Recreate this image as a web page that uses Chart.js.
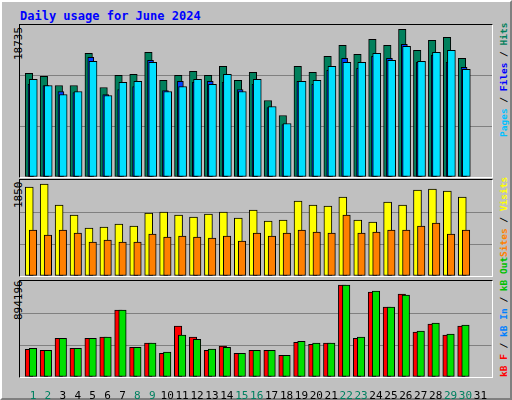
<!DOCTYPE html>
<html>
<head>
<meta charset="utf-8">
<script src="https://cdn.jsdelivr.net/npm/chart.js@4/dist/chart.umd.min.js"></script>
<style>
  body { margin: 0; background: #fff; }
  #wrap { position: absolute; left: 0; top: 0; width: 508px; height: 396px; background: #c0c0c0;
          border: 2px solid; border-color: #fff #808080 #808080 #fff; outline: 1px solid #000; font-family: "DejaVu Sans Mono", monospace; }
  canvas { position: absolute; }
  .box { position: absolute; border: 1px solid; border-color: #000 #fff #fff #000; pointer-events: none; }
  .t { position: absolute; white-space: nowrap; }
  .v { position: absolute; transform-origin: 0 0; transform: rotate(-90deg); white-space: nowrap; font-size: 11px; }
  .side { font-weight: bold; font-size: 9.5px; }
</style>
</head>
<body>
<div id="wrap">
  <div class="t" style="left:18px;top:7px;color:#0000ff;font-weight:bold;font-size:12px;">Daily usage for June 2024</div>

  <div class="v" style="left:10px;top:58px;">18735</div>
  <div class="v" style="left:10px;top:206px;">1850</div>
  <div class="v" style="left:10px;top:318px;">894196</div>

  <div class="v side" style="left:496px;top:135px;"><span style="color:#00c0ff">Pages</span> / <span style="color:#0000ff">Files</span> / <span style="color:#00805c">Hits</span></div>
  <div class="v side" style="left:496px;top:255px;"><span style="color:#ff8000">Sites</span> / <span style="color:#ffff00">Visits</span></div>
  <div class="v side" style="left:496px;top:375px;"><span style="color:#ff0000">kB F</span> / <span style="color:#0080ff">kB In</span> / <span style="color:#00c000">kB Out</span></div>

  <canvas id="c1" width="472" height="152" style="left:18px;top:23px;"></canvas>
  <canvas id="c2" width="472" height="96" style="left:18px;top:178px;"></canvas>
  <canvas id="c3" width="472" height="118" style="left:18px;top:279px;"></canvas>
  <div class="box" style="left:17px;top:22px;width:472px;height:152px;"></div>
  <div class="box" style="left:17px;top:177px;width:472px;height:96px;"></div>
  <div class="box" style="left:17px;top:278px;width:472px;height:96px;"></div>
</div>
<script>
// Dữ liệu theo ngày (tháng 6/2024)
const days = [1,2,3,4,5,6,7,8,9,10,11,12,13,14,15,16,17,18,19,20,21,22,23,24,25,26,27,28,29,30,31];
const weekend = [1,2,8,9,15,16,22,23,29,30];

const hits  = [12765,12395,11283,11283,15236,11036,12518,12642,15360,11901,12518,13013,12518,13630,11901,12889,9430,7577,13630,12889,14866,16225,15113,16966,16225,18201,15607,16843,17213,14619];
const files = [11407,11283,10542,10418,14742,10171,10789,11160,14372,10666,11777,11654,11777,11654,10789,11407,8565,6465,11777,11407,13136,14619,13383,14866,14619,16348,14124,14989,14124,13507];
const pages = [12024,11283,10171,10542,14248,10048,11654,11777,14124,10542,11160,12024,11407,12642,10542,12024,8689,6589,11777,11901,13630,14124,14124,15236,14372,16101,14248,15360,15607,13260];

const visits = [1714,1772,1367,1175,924,944,1002,963,1213,1233,1175,1136,1194,1233,1117,1271,1059,1079,1444,1367,1348,1521,1079,1040,1425,1367,1656,1676,1637,1521];
const sites  = [886,790,886,828,655,693,655,655,809,751,770,751,732,770,674,828,770,828,886,847,828,1175,828,847,886,886,963,1021,809,886];

const kbF   = [258600,249000,361000,268000,361000,371000,623000,277000,315000,221000,474000,371000,249000,287000,221000,249000,249000,203000,324000,305000,315000,857000,361000,791000,651000,773000,418000,492000,390000,474000];
const kbOut = [268000,249000,361000,268000,361000,371000,623000,277000,315000,231000,390000,352000,259000,277000,221000,249000,249000,203000,333000,315000,315000,857000,371000,801000,651000,763000,427000,502000,399000,483000];

const yMax = { usage: 18735, visits: 1850, kb: 894196 };

function pts(arr, shift) {
  return arr.map((v, i) => ({ x: days[i] + shift, y: v }));
}
function ds(arr, shift, color, w) {
  return { data: pts(arr, shift), backgroundColor: color, borderColor: '#000', borderWidth: 1,
           borderSkipped: false, barThickness: w, grouped: false };
}
function opts(max, showX) {
  return {
    responsive: false, animation: false,
    layout: { padding: 0 },
    plugins: { legend: { display: false }, tooltip: { enabled: false } },
    scales: {
      x: {
        type: 'linear', min: 0.13, max: 31.74, display: showX, offset: false,
        grid: { display: false }, border: { display: false },
        afterBuildTicks: s => { s.ticks = days.map(d => ({ value: d })); },
        afterFit: s => { s.height = showX ? 22 : 0; },
        ticks: {
          padding: 5, autoSkip: false, maxRotation: 0,
          font: { family: 'DejaVu Sans Mono', size: 11 },
          color: c => weekend.includes(c.tick.value) ? '#008060' : '#000',
          callback: v => String(v)
        }
      },
      y: {
        min: 0, max: max, display: true,
        afterFit: s => { s.width = 0; },
        ticks: { display: false, stepSize: max / 3 },
        border: { display: false },
        grid: { drawTicks: false, color: c => (c.index === 1 || c.index === 2) ? '#808080' : 'rgba(0,0,0,0)' }
      }
    }
  };
}

new Chart(document.getElementById('c1'), {
  type: 'bar',
  data: { datasets: [ds(pages, 0.02, '#00e0ff', 8), ds(files, -0.13, '#0040ff', 6), ds(hits, -0.27, '#00805c', 7.5)].map((d, i) => Object.assign(d, { order: i })) },
  options: opts(yMax.usage, false)
});
new Chart(document.getElementById('c2'), {
  type: 'bar',
  data: { datasets: [Object.assign(ds(sites, 0, '#ff8000', 7.5), { order: 0 }), Object.assign(ds(visits, -0.25, '#ffff00', 8), { order: 1 })] },
  options: opts(yMax.visits, false)
});
new Chart(document.getElementById('c3'), {
  type: 'bar',
  data: { datasets: [Object.assign(ds(kbOut, 0, '#00e000', 7.5), { order: 0 }), Object.assign(ds(kbF, -0.27, '#ff0000', 7.5), { order: 1 })] },
  options: opts(yMax.kb, true)
});
</script>
</body>
</html>
